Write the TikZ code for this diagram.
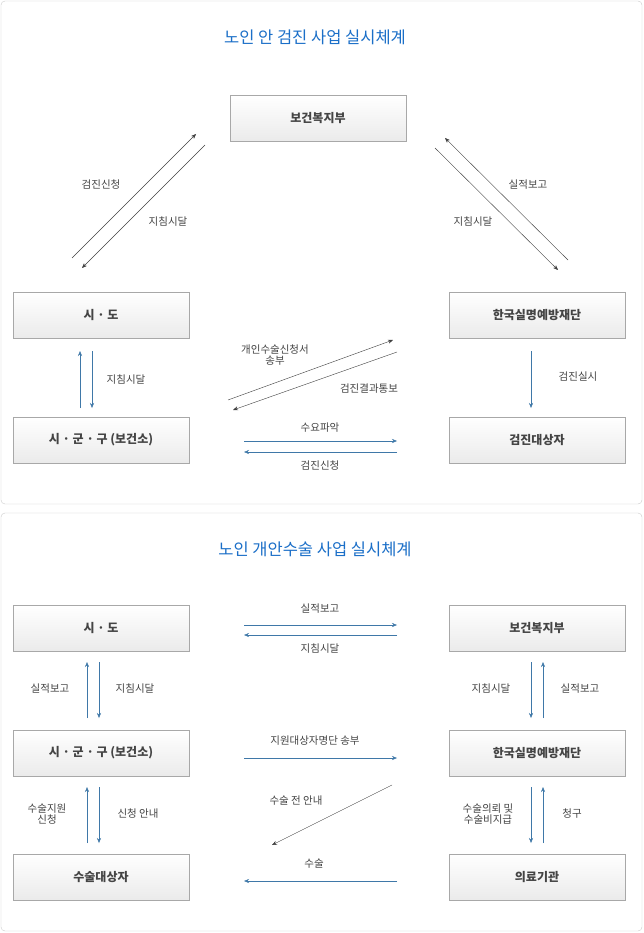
\documentclass[tikz,border=0pt]{standalone}
\usepackage{fontspec}
\setmainfont{Noto Sans CJK KR}
\usetikzlibrary{arrows.meta}
\definecolor{ttlblue}{HTML}{1B6FC8}
\definecolor{arblue}{HTML}{3F78A8}
\definecolor{boxline}{HTML}{A8A8A8}
\definecolor{txtgray}{HTML}{444444}
\tikzset{
  panel/.style={draw=black!20,fill=white,rounded corners=4pt},
  box/.style={draw=boxline,top color=white,bottom color=black!8,minimum width=176pt,minimum height=46pt,font=\fontsize{12}{14}\selectfont\bfseries,text=txtgray},
  lbl/.style={font=\fontsize{10.5}{13}\selectfont,text=txtgray,align=center},
  ttl/.style={font=\fontsize{16.5}{19}\selectfont,text=ttlblue},
  arb/.style={draw=arblue,-{Stealth[length=5pt,width=4pt]}},
  ard/.style={draw=black!75,-{Stealth[length=5pt,width=4pt]}},
}
\begin{document}
\begin{tikzpicture}[x=1pt,y=-1pt]
  \useasboundingbox[fill=white] (0,0) rectangle (643,933);
  \draw[panel] (1,1) rectangle (642,504);
  \draw[panel] (1,513) rectangle (642,931);

  % top panel
  \node[ttl] (t1) at (315,37) {노인 안 검진 사업 실시체계};
  \node[box] (mw) at (318,118) {보건복지부};
  \node[box] (sd) at (101,315) {시 · 도};
  \node[box] (kf) at (537,315) {한국실명예방재단};
  \node[box] (sg) at (101,440) {시 · 군 · 구 (보건소)};
  \node[box] (tg) at (537,440) {검진대상자};

  \draw[ard] (72,258) -- (196,134);
  \draw[ard] (205,145) -- (82,268);
  \node[lbl] (l1) at (101,185) {검진신청};
  \node[lbl] (l2) at (168,222) {지침시달};
  \draw[ard] (435,148) -- (558,270);
  \draw[ard] (568,260) -- (445,138);
  \node[lbl] (l3) at (473,222) {지침시달};
  \node[lbl] (l4) at (528,185) {실적보고};

  \draw[arb] (80,408) -- (80,351);
  \draw[arb] (92,351) -- (92,408);
  \node[lbl] (l5) at (126,380) {지침시달};
  \draw[arb] (531,351) -- (531,408);
  \node[lbl] (l6) at (578,377) {검진실시};

  \draw[ard] (228,400) -- (393,340);
  \draw[ard] (397,352) -- (233,410);
  \node[lbl] (l7) at (275,355) {개인수술신청서\\[-2pt]송부};
  \node[lbl] (l8) at (369,389) {검진결과통보};
  \draw[arb] (244,441) -- (397,441);
  \draw[arb] (397,452) -- (244,452);
  \node[lbl] (l9) at (320,428) {수요파악};
  \node[lbl] (l10) at (320,466) {검진신청};

  % bottom panel
  \node[ttl] (t2) at (315,549) {노인 개안수술 사업 실시체계};
  \node[box] (bsd) at (101,628) {시 · 도};
  \node[box] (bmw) at (537,628) {보건복지부};
  \node[box] (bsg) at (101,753) {시 · 군 · 구 (보건소)};
  \node[box] (bkf) at (537,753) {한국실명예방재단};
  \node[box] (bpt) at (101,877) {수술대상자};
  \node[box] (bho) at (537,877) {의료기관};

  \draw[arb] (244,625) -- (397,625);
  \draw[arb] (397,635) -- (244,635);
  \node[lbl] (m1) at (320,609) {실적보고};
  \node[lbl] (m2) at (320,649) {지침시달};

  \draw[arb] (87,718) -- (87,662);
  \draw[arb] (99,662) -- (99,718);
  \node[lbl] (m3) at (50,689) {실적보고};
  \node[lbl] (m4) at (135,689) {지침시달};
  \draw[arb] (531,662) -- (531,718);
  \draw[arb] (543,718) -- (543,662);
  \node[lbl] (m5) at (491,689) {지침시달};
  \node[lbl] (m6) at (580,689) {실적보고};

  \draw[arb] (87,843) -- (87,787);
  \draw[arb] (99,787) -- (99,843);
  \node[lbl] (m7) at (47,814) {수술지원\\[-2pt]신청};
  \node[lbl] (m8) at (138,814) {신청 안내};
  \draw[arb] (531,787) -- (531,843);
  \draw[arb] (543,843) -- (543,787);
  \node[lbl] (m9) at (488,814) {수술의뢰 및\\[-2pt]수술비지급};
  \node[lbl] (m10) at (572,814) {청구};

  \draw[arb] (244,758) -- (397,758);
  \node[lbl] (m11) at (315,741) {지원대상자명단 송부};
  \draw[ard] (392,785) -- (272,845);
  \node[lbl] (m12) at (296,801) {수술 전 안내};
  \draw[arb] (397,881) -- (244,881);
  \node[lbl] (m13) at (314,864) {수술};
\end{tikzpicture}
\end{document}
